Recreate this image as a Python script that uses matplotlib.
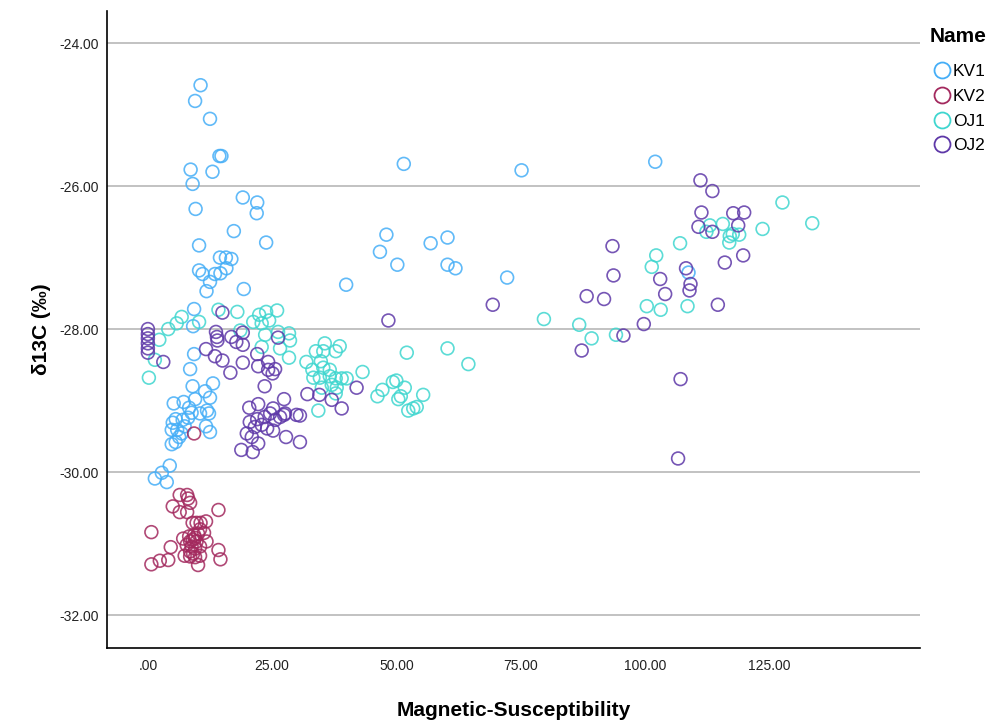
import matplotlib
matplotlib.use('Agg')
import matplotlib.pyplot as plt
from matplotlib.ticker import FuncFormatter
from matplotlib.lines import Line2D

plt.rcParams['font.family'] = ['Liberation Sans', 'DejaVu Sans']

names = ['KV1', 'KV2', 'OJ1', 'OJ2']
colors = ['#45aef7', '#a3295e', '#3fd6cf', '#5e38a8']

kv1_x = [10.6, 9.5, 12.5, 14.4, 14.8, 8.6, 13.0, 9.0, 19.1, 22.0, 21.9, 9.6, 17.3, 23.8, 10.3,
         14.5, 15.7, 16.8, 10.3, 11.0, 13.5, 14.6, 15.8, 12.5, 11.8, 19.3,
         9.3, 9.1, 9.3, 8.5, 9.0, 11.5, 13.1, 12.5, 5.2, 7.2, 9.5, 8.3, 8.8, 10.5, 11.9, 12.3,
         8.1, 7.0, 5.6, 5.0, 4.8, 5.9, 6.8, 6.3, 4.8, 5.6, 11.7, 12.5, 7.4, 4.4, 2.8, 1.4, 3.8,
         51.5, 75.2, 102.1, 48.0, 46.7, 50.2, 56.9, 60.3, 60.3, 61.9, 72.3, 39.9, 108.8]
kv1_y = [-24.59, -24.81, -25.06, -25.58, -25.58, -25.77, -25.80, -25.97, -26.16, -26.23, -26.38, -26.32, -26.63, -26.79, -26.83,
         -27.00, -27.00, -27.02, -27.18, -27.23, -27.23, -27.22, -27.15, -27.34, -27.47, -27.44,
         -27.72, -27.96, -28.35, -28.56, -28.80, -28.87, -28.76, -28.96, -29.04, -29.02, -28.98, -29.10, -29.17, -29.18, -29.14, -29.18,
         -29.24, -29.27, -29.26, -29.31, -29.41, -29.41, -29.46, -29.51, -29.61, -29.58, -29.36, -29.44, -29.36, -29.91, -30.01, -30.09, -30.14,
         -25.69, -25.78, -25.66, -26.68, -26.92, -27.10, -26.80, -26.72, -27.10, -27.15, -27.28, -27.38, -27.21]

kv2_x = [9.3, 6.4, 7.9, 8.1, 8.5, 5.0, 6.4, 7.9, 14.2, 0.7, 9.0, 9.8, 10.6, 11.7, 10.5, 11.3,
         7.1, 8.3, 9.3, 10.1, 9.0, 9.8, 11.8, 7.8, 8.8, 9.5, 10.5, 4.6, 14.2, 8.5, 9.1,
         7.4, 8.5, 9.5, 10.5, 14.6, 0.7, 2.4, 4.1, 10.1, 9.5, 8.5]
kv2_y = [-29.46, -30.32, -30.32, -30.37, -30.43, -30.48, -30.56, -30.56, -30.53, -30.84, -30.71, -30.71, -30.71, -30.69, -30.80, -30.85,
         -30.93, -30.90, -30.88, -30.86, -30.95, -30.97, -30.97, -31.02, -31.04, -31.07, -31.04, -31.05, -31.09, -31.11, -31.14,
         -31.17, -31.18, -31.19, -31.17, -31.22, -31.29, -31.24, -31.23, -31.30, -30.92, -30.97]

oj1_x = [2.3, 1.4, 0.2, 4.1, 5.8, 6.8, 10.3, 14.2, 18.0, 21.2, 22.4, 23.8, 26.0, 22.9, 24.4, 23.6,
         26.2, 28.4, 28.6, 26.6, 22.9, 28.4, 18.6,
         33.8, 35.6, 38.6, 37.8, 35.3, 34.8, 31.9, 33.1, 35.3, 36.6, 33.3, 34.6, 36.6, 37.8, 39.0, 40.0,
         43.2, 35.0, 37.0, 38.0, 37.8, 34.3,
         52.1, 60.3, 64.5, 49.3, 50.0, 51.7, 47.2, 46.2, 50.9, 55.4, 50.4, 52.4, 53.4, 54.1,
         127.7, 133.7, 113.1, 112.4, 115.7, 123.7, 117.1, 117.7, 119.0, 117.0, 107.1, 102.3, 101.4,
         100.4, 103.2, 108.6, 79.7, 86.8, 89.3, 94.2]
oj1_y = [-28.15, -28.43, -28.68, -28.00, -27.92, -27.83, -27.90, -27.73, -27.76, -27.90, -27.80, -27.76, -27.74, -27.92, -27.88, -28.08,
         -28.04, -28.06, -28.16, -28.27, -28.25, -28.40, -28.02,
         -28.31, -28.20, -28.24, -28.31, -28.31, -28.45, -28.46, -28.57, -28.54, -28.57, -28.68, -28.68, -28.66, -28.69, -28.69, -28.69,
         -28.60, -28.82, -28.78, -28.82, -28.90, -29.14,
         -28.33, -28.27, -28.49, -28.74, -28.72, -28.82, -28.85, -28.94, -28.94, -28.92, -28.98, -29.14, -29.11, -29.09,
         -26.23, -26.52, -26.55, -26.64, -26.53, -26.60, -26.70, -26.67, -26.68, -26.79, -26.80, -26.97, -27.13,
         -27.68, -27.73, -27.68, -27.86, -27.94, -28.13, -28.08]

oj2_x = [0.0, 0.0, 0.0, 0.0, 0.0, 0.0,
         3.1, 15.0, 13.7, 13.9, 14.0, 11.7, 13.5, 15.0, 16.8, 17.8, 19.1, 19.1, 16.6, 19.1, 22.0, 22.2,
         24.2, 24.2, 25.1, 25.6, 23.5, 26.2,
         27.4, 20.4, 22.2, 25.2, 29.9, 27.6, 20.5, 22.0, 23.5, 24.6, 25.6, 26.6, 21.5, 22.9, 24.0, 25.2,
         19.9, 20.9, 22.2, 27.8, 18.8, 21.1, 30.6,
         32.1, 34.5, 37.0, 39.0, 42.0, 30.6, 27.4, 48.4, 69.4,
         111.2, 113.6, 111.4, 117.8, 120.0, 110.8, 113.6, 118.8, 119.8, 116.1, 93.5, 93.7, 108.3, 103.1,
         109.2, 109.0, 104.1, 88.3, 91.8, 114.7, 99.8, 95.7, 87.3, 107.2, 106.7]
oj2_y = [-28.00, -28.07, -28.13, -28.20, -28.27, -28.33,
         -28.46, -27.77, -28.04, -28.11, -28.16, -28.28, -28.38, -28.44, -28.11, -28.18, -28.05, -28.22, -28.61, -28.47, -28.35, -28.52,
         -28.46, -28.57, -28.62, -28.56, -28.80, -28.12,
         -28.98, -29.10, -29.05, -29.11, -29.20, -29.18, -29.30, -29.26, -29.23, -29.18, -29.27, -29.23, -29.37, -29.34, -29.39, -29.42,
         -29.46, -29.51, -29.60, -29.51, -29.69, -29.72, -29.58,
         -28.91, -28.92, -28.99, -29.11, -28.82, -29.21, -29.20, -27.88, -27.66,
         -25.92, -26.07, -26.37, -26.38, -26.37, -26.57, -26.64, -26.55, -26.97, -27.07, -26.84, -27.25, -27.15, -27.30,
         -27.37, -27.46, -27.51, -27.54, -27.58, -27.66, -27.93, -28.09, -28.30, -28.70, -29.81]

series = [(kv1_x, kv1_y), (kv2_x, kv2_y), (oj1_x, oj1_y), (oj2_x, oj2_y)]
x_ticks = [0, 25, 50, 75, 100, 125]
y_ticks = [-32, -30, -28, -26, -24]

fig = plt.figure(figsize=(9.99, 7.24), dpi=100)
ax = fig.add_axes([0.107, 0.105, 0.814, 0.880])

for (xs, ys), c in zip(series, colors):
    ax.scatter(xs, ys, s=85, facecolors='none', edgecolors=c, linewidths=1.2, alpha=0.85, zorder=3)

ax.set_xlim(-8.25, 155.4)
ax.set_ylim(-32.46, -23.55)
ax.set_xticks(x_ticks)
ax.set_yticks(y_ticks)

def fmt_x(v, pos):
    s = '%.2f' % v
    return s[1:] if s.startswith('0') else s

ax.xaxis.set_major_formatter(FuncFormatter(fmt_x))
ax.yaxis.set_major_formatter(FuncFormatter(lambda v, p: '%.2f' % v))
ax.tick_params(axis='both', length=0, labelsize=10, colors='#222222')
ax.tick_params(axis='y', pad=6)
ax.tick_params(axis='x', pad=8)

ax.grid(axis='y', color='#bdbdbd', linewidth=1.3, zorder=0)
ax.set_axisbelow(True)
for side in ['top', 'right']:
    ax.spines[side].set_visible(False)
for side in ['left', 'bottom']:
    ax.spines[side].set_color('black')
    ax.spines[side].set_linewidth(1.2)

ax.set_xlabel('Magnetic-Susceptibility', fontsize=15, fontweight='bold', labelpad=20)
ax.set_ylabel('δ13C (‰)', fontsize=15, fontweight='bold', labelpad=6)

# legend: title drawn as text, entries below it
fig.text(0.931, 0.950, 'Name', fontsize=15, fontweight='bold', ha='left', va='center')
handles = [Line2D([], [], marker='o', linestyle='none', markersize=11.5, markerfacecolor='none',
                  markeredgecolor=c, markeredgewidth=1.3) for c in colors]
fig.legend(handles, names, loc='upper left', bbox_to_anchor=(0.934, 0.912),
           frameon=False, fontsize=12.5, handletextpad=0.15, handlelength=1.0,
           labelspacing=0.56, borderaxespad=0, borderpad=0)

fig.savefig('out.png', dpi=100)
